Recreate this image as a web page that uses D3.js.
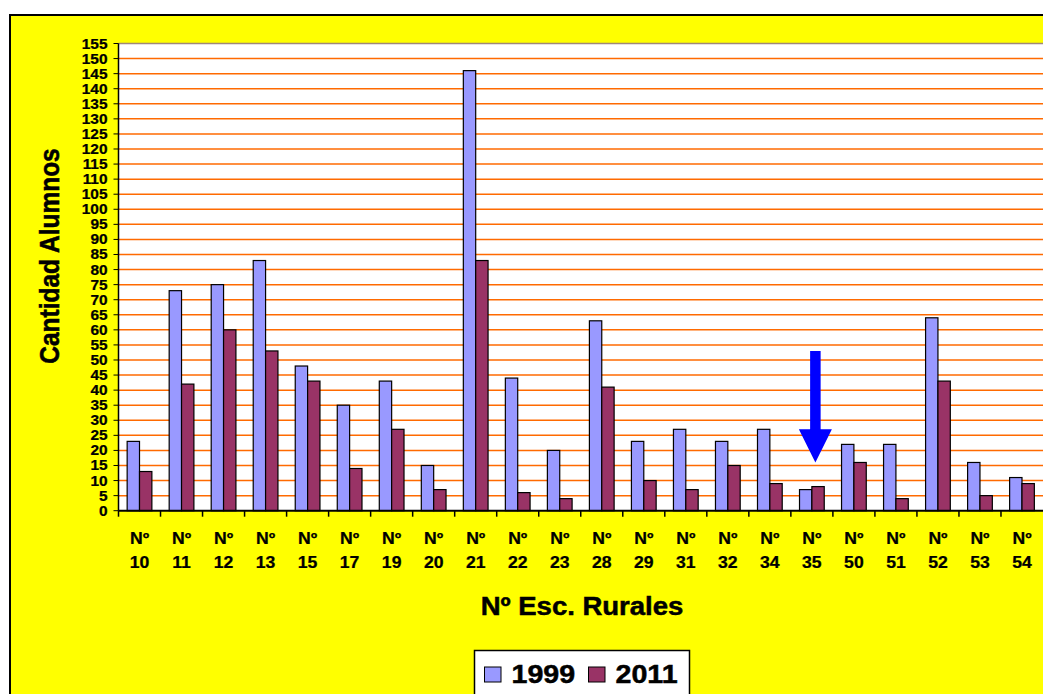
<!DOCTYPE html>
<html>
<head>
<meta charset="utf-8">
<script src="https://cdn.jsdelivr.net/npm/d3@7"></script>
<style>
  html, body { margin: 0; padding: 0; background: #ffffff; overflow: hidden; }
  svg { display: block; font-family: Arial, "Liberation Sans", sans-serif; font-weight: bold; }
</style>
</head>
<body>
<svg id="chart" width="1100" height="694"></svg>
<script>
"use strict";
// escuelas rurales, alumnos 1999 vs 2011
const schools = ["10", "11", "12", "13", "15", "17", "19", "20", "21", "22", "23",
                 "28", "29", "31", "32", "34", "35", "50", "51", "52", "53", "54"];
const series = ["1999", "2011"];
const values1999 = [23, 73, 75, 83, 48, 35, 43, 15, 146, 44, 20, 63, 23, 27, 23, 27, 7, 22, 22, 64, 16, 11];
const values2011 = [13, 42, 60, 53, 43, 14, 27, 7, 83, 6, 4, 41, 10, 7, 15, 9, 8, 16, 4, 43, 5, 9];
const yTicks = d3.range(0, 156, 5);
// flecha sobre la escuela 35 (valores en alumnos)
const arrowSchool = "35";
const arrowTop = 53, arrowHeadBase = 27, arrowTip = 16;

const colors = { "1999": "#9999ff", "2011": "#993366" };
const SX = 1.1; // the original picture is a bit wider than tall

const svg = d3.select("#chart");
const plot = { left: 118.5, right: 1043, top: 43.5, bottom: 510.7 };

// outer chart area
svg.append("rect")
    .attr("x", 11).attr("y", 16)
    .attr("width", 1200).attr("height", 800)
    .attr("fill", "#ffff00");
svg.append("path")
    .attr("d", "M1200,15 L10,15 L10,800")
    .attr("fill", "none")
    .attr("stroke", "#000").attr("stroke-width", 2);

const x = d3.scaleBand().domain(schools).range([plot.left, plot.right]).padding(0);
const step = x.step();
const gap = 1.4;
const bw = step / (2 + gap);
const x1 = d3.scaleBand().domain(series)
    .range([bw * gap / 2, bw * gap / 2 + 2 * bw]).padding(0);
const y = d3.scaleLinear().domain([0, 155]).range([plot.bottom, plot.top]);

// plot background
svg.append("rect")
    .attr("x", plot.left).attr("y", plot.top)
    .attr("width", 1200).attr("height", plot.bottom - plot.top)
    .attr("fill", "#ffffff");
svg.append("line")
    .attr("x1", plot.left).attr("x2", 1200)
    .attr("y1", plot.top).attr("y2", plot.top)
    .attr("stroke", "#a08878").attr("stroke-width", 1.5);

// gridlines
svg.append("g").selectAll("line")
    .data(yTicks.filter(d => d > 0 && d < 155))
    .join("line")
    .attr("x1", plot.left).attr("x2", 1200)
    .attr("y1", d => y(d)).attr("y2", d => y(d))
    .attr("stroke", "#ff6a00").attr("stroke-width", 1.5);

// bars
const rows = schools.map((s, i) => ({ school: s, "1999": values1999[i], "2011": values2011[i] }));
svg.append("g").selectAll("g")
    .data(rows)
    .join("g")
    .attr("transform", d => "translate(" + x(d.school) + ",0)")
    .selectAll("rect")
    .data(d => series.map(k => ({ key: k, value: d[k] })))
    .join("rect")
    .attr("x", d => x1(d.key))
    .attr("y", d => y(d.value))
    .attr("width", x1.bandwidth())
    .attr("height", d => y(0) - y(d.value))
    .attr("fill", d => colors[d.key])
    .attr("stroke", "#000").attr("stroke-width", 1.2);

// arrow
const ax = x(arrowSchool) + step / 2 + 3.5;
const shaftW = 10.5, headW = 33;
svg.append("path")
    .attr("d", "M" + (ax - shaftW / 2) + "," + y(arrowTop) +
        " L" + (ax + shaftW / 2) + "," + y(arrowTop) +
        " L" + (ax + shaftW / 2) + "," + y(arrowHeadBase) +
        " L" + (ax + headW / 2) + "," + y(arrowHeadBase) +
        " L" + ax + "," + y(arrowTip) +
        " L" + (ax - headW / 2) + "," + y(arrowHeadBase) +
        " L" + (ax - shaftW / 2) + "," + y(arrowHeadBase) + " Z")
    .attr("fill", "#0000ff");

// axes
const yAxis = svg.append("g");
yAxis.append("line")
    .attr("x1", plot.left).attr("x2", plot.left)
    .attr("y1", plot.top).attr("y2", plot.bottom)
    .attr("stroke", "#000").attr("stroke-width", 1.5);
yAxis.selectAll("line.tick")
    .data(yTicks)
    .join("line").attr("class", "tick")
    .attr("x1", plot.left - 5).attr("x2", plot.left)
    .attr("y1", d => y(d)).attr("y2", d => y(d))
    .attr("stroke", "#000").attr("stroke-width", 1);

function stretchText(parent, px, py, str, size, anchor, baseline, rotate) {
    const g = parent.append("g")
        .attr("transform", "translate(" + px + "," + py + ") scale(" + SX + ",1)" + (rotate ? " rotate(" + rotate + ")" : ""));
    return g.append("text")
        .attr("text-anchor", anchor)
        .attr("dominant-baseline", baseline || "auto")
        .attr("font-size", size)
        .attr("fill", "#000")
        .attr("stroke", "#000")
        .attr("stroke-width", size > 20 ? 0.5 : 0.25)
        .text(str);
}

yTicks.forEach(t => stretchText(yAxis, 107.5, y(t) + 5, String(t), 14, "end"));

const xAxis = svg.append("g");
xAxis.append("line")
    .attr("x1", plot.left).attr("x2", 1200)
    .attr("y1", plot.bottom).attr("y2", plot.bottom)
    .attr("stroke", "#000").attr("stroke-width", 2);
xAxis.selectAll("line.tick")
    .data(schools)
    .join("line").attr("class", "tick")
    .attr("x1", d => x(d)).attr("x2", d => x(d))
    .attr("y1", plot.bottom).attr("y2", plot.bottom + 6)
    .attr("stroke", "#000").attr("stroke-width", 1.5);
schools.forEach(s => {
    const cx = x(s) + step / 2;
    stretchText(xAxis, cx, 544, "Nº", 16, "middle");
    stretchText(xAxis, cx, 568, s, 16, "middle");
});

// titles
stretchText(svg, 582, 615, "Nº Esc. Rurales", 25, "middle");
stretchText(svg, 59, 256, "Cantidad Alumnos", 24.5, "middle", "auto", -90);

// legend
const legend = svg.append("g");
legend.append("rect")
    .attr("x", 474.5).attr("y", 650.5)
    .attr("width", 215).attr("height", 80)
    .attr("fill", "#fff").attr("stroke", "#000").attr("stroke-width", 1.5);
const legendX = [484.5, 588.5];
series.forEach((k, i) => {
    legend.append("rect")
        .attr("x", legendX[i]).attr("y", 667)
        .attr("width", 16.5).attr("height", 15)
        .attr("fill", colors[k]).attr("stroke", "#000").attr("stroke-width", 1);
    stretchText(legend, legendX[i] + 27, 683, k, 26, "start");
});
</script>
</body>
</html>
